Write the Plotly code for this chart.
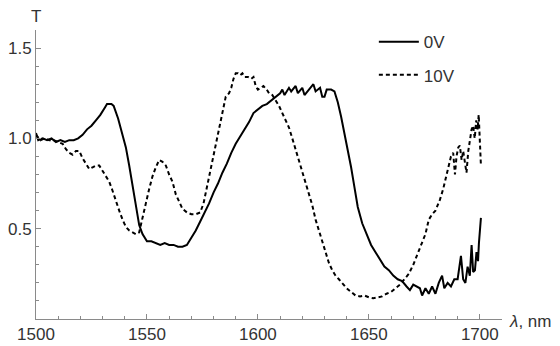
import plotly.graph_objects as go

# 0V (solid) series
lam_0v = [1500, 1501, 1503, 1505, 1507, 1509, 1511, 1513, 1515, 1517, 1519, 1521, 1523, 1525, 1527, 1529,
          1531, 1532, 1534, 1535, 1537, 1539, 1540.5, 1542, 1543.5, 1545, 1546.5, 1548, 1550, 1552, 1554,
          1556, 1558, 1560, 1562, 1564, 1566, 1568, 1570, 1572, 1574, 1576, 1578, 1580, 1582, 1584, 1586,
          1588, 1590, 1592, 1594, 1596, 1598, 1600, 1602, 1604, 1606, 1608, 1610, 1611, 1612, 1614, 1615,
          1617, 1618, 1620, 1621, 1623, 1625, 1626, 1628, 1629, 1630, 1631, 1633, 1634.5, 1636, 1637.5,
          1639, 1640.5, 1642, 1643.5, 1645, 1647, 1649, 1651, 1653, 1655, 1657, 1659, 1661, 1663, 1665,
          1667, 1668.5, 1670, 1671.5, 1673, 1674, 1675.5, 1677, 1678.5, 1680, 1681.5, 1683, 1684, 1685.5,
          1687, 1688.5, 1690, 1691.5, 1692.5, 1693.5, 1694.5, 1695.5, 1696.3, 1697, 1697.8, 1698.5, 1699.2,
          1699.6, 1700, 1700.5]
t_0v = [1.03, 0.99, 1.00, 0.99, 1.00, 0.98, 0.99, 0.98, 0.99, 0.99, 1.00, 1.02, 1.05, 1.07, 1.10, 1.13,
        1.17, 1.19, 1.19, 1.18, 1.11, 1.02, 0.95, 0.85, 0.74, 0.63, 0.52, 0.47, 0.43, 0.43, 0.42,
        0.41, 0.42, 0.41, 0.41, 0.40, 0.40, 0.41, 0.45, 0.49, 0.54, 0.59, 0.64, 0.70, 0.75, 0.81, 0.86,
        0.92, 0.97, 1.01, 1.05, 1.09, 1.14, 1.16, 1.18, 1.19, 1.21, 1.23, 1.25, 1.27, 1.24, 1.28, 1.26,
        1.29, 1.25, 1.28, 1.24, 1.27, 1.30, 1.26, 1.28, 1.23, 1.23, 1.27, 1.27, 1.26, 1.20, 1.12,
        1.03, 0.95, 0.84, 0.73, 0.62, 0.53, 0.47, 0.41, 0.37, 0.33, 0.29, 0.27, 0.24, 0.22, 0.21,
        0.18, 0.16, 0.19, 0.18, 0.17, 0.13, 0.17, 0.14, 0.18, 0.14, 0.20, 0.24, 0.17, 0.20,
        0.18, 0.22, 0.22, 0.35, 0.22, 0.20, 0.29, 0.24, 0.41, 0.26, 0.27, 0.37, 0.32,
        0.42, 0.50, 0.56]

# 10V (dashed) series
lam_10v = [1500, 1502, 1504, 1506, 1508, 1510, 1512, 1513.5, 1515, 1516.5, 1518, 1519.5, 1521, 1522.5, 1524,
           1525.5, 1527, 1528.5, 1530, 1531.5, 1533, 1534.5, 1536, 1537.5, 1539, 1540.5, 1542, 1543.5, 1545,
           1546.5, 1548, 1549.5, 1551, 1552.5, 1554, 1555.5, 1557, 1558.5, 1560, 1561.5, 1563, 1564.5, 1566,
           1568, 1570, 1572, 1574, 1575.5, 1577, 1578.5, 1580, 1581.5, 1583, 1584.5, 1585.5, 1587, 1588,
           1589, 1590, 1591, 1592, 1593, 1594, 1595.5, 1597, 1598, 1599, 1600, 1601, 1602.5, 1604, 1605,
           1606.5, 1608, 1609.5, 1611, 1612.5, 1614, 1615.5, 1617, 1618.5, 1620, 1621.5, 1623, 1624.5, 1626,
           1627.5, 1629, 1630.5, 1632, 1633.5, 1635, 1636.5, 1638, 1640, 1642, 1644, 1646, 1648, 1650, 1652,
           1654, 1656, 1658, 1660, 1662, 1664, 1666, 1668, 1670, 1672, 1674, 1675.5, 1677, 1678.5, 1680,
           1682, 1683.5, 1685, 1686, 1687, 1688, 1688.8, 1689.5, 1690.3, 1691, 1691.8, 1692.5, 1693.2, 1694,
           1694.8, 1695.5, 1696.3, 1697, 1697.7, 1698.4, 1699, 1699.5, 1700, 1700.5]
t_10v = [1.02, 0.99, 1.00, 0.99, 0.99, 0.98, 0.97, 0.94, 0.92, 0.91, 0.93, 0.93, 0.89, 0.86, 0.83,
         0.84, 0.85, 0.85, 0.82, 0.79, 0.76, 0.71, 0.65, 0.60, 0.55, 0.51, 0.49, 0.48, 0.47,
         0.48, 0.57, 0.64, 0.72, 0.79, 0.84, 0.88, 0.87, 0.85, 0.80, 0.76, 0.69, 0.65, 0.61,
         0.59, 0.58, 0.58, 0.59, 0.64, 0.73, 0.81, 0.90, 0.99, 1.08, 1.18, 1.23, 1.25, 1.28,
         1.33, 1.36, 1.36, 1.35, 1.36, 1.34, 1.34, 1.33, 1.34, 1.29, 1.27, 1.28, 1.29, 1.27, 1.25,
         1.24, 1.21, 1.18, 1.14, 1.10, 1.06, 1.00, 0.94, 0.88, 0.81, 0.75, 0.69, 0.63, 0.55,
         0.49, 0.42, 0.36, 0.31, 0.27, 0.24, 0.22, 0.20, 0.17, 0.15, 0.13, 0.125, 0.13, 0.12, 0.115,
         0.12, 0.125, 0.14, 0.15, 0.17, 0.19, 0.22, 0.25, 0.30, 0.36, 0.42, 0.47, 0.55, 0.58, 0.60,
         0.66, 0.72, 0.80, 0.86, 0.90, 0.92, 0.80, 0.90, 0.95, 0.96, 0.88, 0.93, 0.86, 0.81,
         0.93, 0.98, 1.05, 1.07, 1.00, 1.10, 1.05, 1.13, 0.98, 0.85]

x_ticks = [1500, 1550, 1600, 1650, 1700]
y_ticks = [0.5, 1.0, 1.5]
y_tick_text = ["0.5", "1.0", "1.5"]

FONT = "Liberation Sans, Arial, sans-serif"
AX = "#8a8a8a"
TXT = "#333333"
FS = 17

fig = go.Figure()
fig.add_trace(go.Scatter(x=lam_0v, y=t_0v, mode="lines", name="0V", legendgroup="a",
                         line=dict(color="black", width=2)))
fig.add_trace(go.Scatter(x=lam_10v, y=t_10v, mode="lines", name="10V", legendgroup="b",
                         line=dict(color="black", width=2, dash="4px,3px")))

fig.update_layout(
    width=560, height=346,
    margin=dict(l=36, r=58, t=30, b=27),
    paper_bgcolor="white", plot_bgcolor="white",
    font=dict(family=FONT, size=FS, color=TXT),
    showlegend=True,
    legend=dict(x=0.725, y=1.02, xanchor="left", yanchor="top", bgcolor="rgba(0,0,0,0)",
                font=dict(size=FS, color=TXT), tracegroupgap=8, itemwidth=40),
    xaxis=dict(range=[1500, 1710], showline=True, linecolor=AX, linewidth=1, showgrid=False,
               zeroline=False, tickvals=x_ticks, ticks="inside", ticklen=5, tickcolor=AX,
               tickfont=dict(size=FS, color=TXT), ticklabelstandoff=0, automargin=False,
               minor=dict(dtick=10, tick0=1500, ticks="inside", ticklen=3, tickcolor=AX, showgrid=False)),
    yaxis=dict(range=[0, 1.6], showline=True, linecolor=AX, linewidth=1, showgrid=False,
               zeroline=False, tickvals=y_ticks, ticktext=y_tick_text, ticks="inside", ticklen=5,
               tickcolor=AX, tickfont=dict(size=FS, color=TXT), automargin=False,
               minor=dict(dtick=0.1, tick0=0, ticks="inside", ticklen=3, tickcolor=AX, showgrid=False)),
    annotations=[
        dict(text="T", xref="paper", yref="paper", x=0.0, y=1.0, xanchor="center", yanchor="bottom",
             yshift=2, showarrow=False, font=dict(size=FS, color=TXT)),
        dict(text="<i>λ</i>, nm", xref="paper", yref="paper", x=1.0, y=0.0, xanchor="left",
             yanchor="middle", xshift=5, yshift=-2, showarrow=False, font=dict(size=FS, color=TXT)),
    ],
)

fig.write_html("out.html")
